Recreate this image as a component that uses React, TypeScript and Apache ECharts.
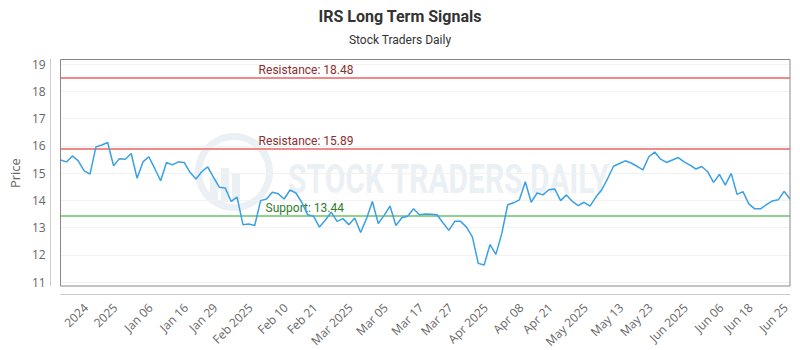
import React, { useEffect, useRef } from "react";
import * as echarts from "echarts";

const prices: number[] = [
  15.48, 15.41, 15.63, 15.45, 15.08, 14.96, 15.96, 16.03, 16.12, 15.27,
  15.53, 15.51, 15.72, 14.81, 15.41, 15.6, 15.17, 14.72, 15.39, 15.3,
  15.41, 15.39, 15.03, 14.78, 15.05, 15.23, 14.84, 14.48, 14.45, 13.96,
  14.12, 13.11, 13.13, 13.08, 13.99, 14.05, 14.3, 14.24, 14.05, 14.38,
  14.27, 13.93, 13.47, 13.42, 13.02, 13.27, 13.57, 13.23, 13.33, 13.11,
  13.35, 12.82, 13.33, 13.96, 13.15, 13.45, 13.79, 13.08, 13.36, 13.42,
  13.69, 13.47, 13.5, 13.49, 13.47, 13.18, 12.9, 13.23, 13.23, 13.02,
  12.66, 11.69, 11.63, 12.38, 12.02, 12.78, 13.84, 13.91, 14.02, 14.68,
  13.93, 14.27, 14.2, 14.39, 14.42, 13.99, 14.2, 13.96, 13.81, 13.93,
  13.79, 14.12, 14.39, 14.8, 15.25, 15.35, 15.45, 15.37, 15.25, 15.12,
  15.6, 15.77, 15.51, 15.39, 15.48, 15.57, 15.41, 15.29, 15.15, 15.24,
  15.05, 14.66, 14.95, 14.56, 14.99, 14.22, 14.32, 13.87, 13.69, 13.69,
  13.84, 13.98, 14.02, 14.33, 14.05,
];

const tickLabels: string[] = [
  "2024", "2025", "Jan 06", "Jan 16", "Jan 29", "Feb 2025", "Feb 10", "Feb 21",
  "Mar 2025", "Mar 05", "Mar 17", "Mar 27", "Apr 2025", "Apr 08", "Apr 21",
  "May 2025", "May 13", "May 23", "Jun 2025", "Jun 06", "Jun 18", "Jun 25",
];

const resistanceLevels: number[] = [18.48, 15.89];
const supportLevels: number[] = [13.44];

const yTicks = { min: 11, max: 19, interval: 1 };

export default function App() {
  const ref = useRef<HTMLDivElement>(null);

  useEffect(() => {
    if (!ref.current) return;
    document.body.style.margin = "0";
    const chart = echarts.init(ref.current, undefined, { renderer: "svg" });

    const n = prices.length;
    const firstTick = 4.7;
    const labelAt = new Map<number, string>();
    tickLabels.forEach((t, j) => {
      const idx = Math.round(firstTick + (j * (n - 1 - firstTick)) / (tickLabels.length - 1));
      labelAt.set(idx, t);
    });
    const categories = prices.map((_, i) => String(i));

    const font = "'Open Sans', sans-serif";
    const wm = "#ebf0f4";

    const lineLabel = (text: string, color: string, padLeft: number) => ({
      show: true,
      formatter: text,
      position: "insideStartTop" as const,
      color,
      fontSize: 12,
      fontFamily: "Roboto, sans-serif",
      distance: 2,
      padding: [0, 0, 0, padLeft],
    });

    const markData: any[] = [
      ...resistanceLevels.map((v) => ({
        yAxis: v,
        lineStyle: { color: "#f08a8a", width: 2, type: "solid" },
        label: lineLabel(`Resistance: ${v.toFixed(2)}`, "#8b2e2e", 196),
      })),
      ...supportLevels.map((v) => ({
        yAxis: v,
        lineStyle: { color: "#90d090", width: 2, type: "solid" },
        label: lineLabel(`Support: ${v.toFixed(2)}`, "#2e7d2e", 203),
      })),
    ];

    chart.setOption({
      animation: false,
      backgroundColor: "#ffffff",
      title: {
        text: "IRS Long Term Signals",
        subtext: "Stock Traders Daily",
        left: "center",
        top: 3,
        itemGap: 10,
        textStyle: { fontFamily: "Roboto, sans-serif", fontWeight: "bold", fontSize: 16, color: "#333333" },
        subtextStyle: { fontFamily: "Roboto, sans-serif", fontSize: 12, color: "#333333" },
      },
      grid: { left: 60, right: 10, top: 64, bottom: 66 },
      graphic: [
        {
          type: "ring",
          shape: { cx: 234, cy: 172, r: 39, r0: 32 },
          style: { fill: wm },
          silent: true,
          z: 0,
        },
        { type: "rect", shape: { x: 210, y: 178, width: 8, height: 24 }, style: { fill: wm }, silent: true, z: 0 },
        { type: "rect", shape: { x: 221, y: 168, width: 8, height: 34 }, style: { fill: wm }, silent: true, z: 0 },
        { type: "rect", shape: { x: 232, y: 174, width: 8, height: 28 }, style: { fill: wm }, silent: true, z: 0 },
        {
          type: "text",
          x: 288,
          y: 179,
          scaleX: 0.75,
          style: {
            text: "STOCK TRADERS DAILY",
            fontSize: 40,
            fontFamily: "Roboto, sans-serif",
            fontWeight: "bold",
            fill: wm,
            verticalAlign: "middle",
          },
          silent: true,
          z: 0,
        },
        {
          type: "rect",
          shape: { x: 60.5, y: 59.5, width: 729.5, height: 226.5 },
          style: { fill: "none", stroke: "#888888", lineWidth: 1 },
          silent: true,
          z: 10,
        },
        {
          type: "line",
          shape: { x1: 50.5, y1: 59, x2: 50.5, y2: 286 },
          style: { stroke: "#cccccc", lineWidth: 1 },
          silent: true,
        },
      ],
      xAxis: {
        type: "category",
        data: categories,
        boundaryGap: false,
        offset: 12,
        axisLine: { show: true, lineStyle: { color: "#cccccc" } },
        axisTick: { show: false },
        splitLine: { show: false },
        axisLabel: {
          interval: (index: number) => labelAt.has(index),
          formatter: (_v: string, index: number) => labelAt.get(index) ?? "",
          rotate: 45,
          margin: 7,
          padding: [0, 6, 0, 0],
          fontSize: 12,
          fontFamily: font,
          color: "#666666",
        },
      },
      yAxis: {
        type: "value",
        min: yTicks.min,
        max: yTicks.max,
        interval: yTicks.interval,
        name: "Price",
        nameLocation: "middle",
        nameGap: 36,
        nameTextStyle: { fontSize: 13, fontFamily: font, color: "#666666" },
        axisLine: { show: false },
        axisTick: { show: false },
        splitLine: { show: true, lineStyle: { color: "#f2f2f2" } },
        axisLabel: { margin: 15, fontSize: 12, fontFamily: font, color: "#666666" },
      },
      series: [
        {
          type: "line",
          data: prices,
          showSymbol: false,
          smooth: false,
          lineStyle: { color: "#3aa0e6", width: 1.5 },
          itemStyle: { color: "#3aa0e6" },
          z: 5,
          markLine: {
            silent: true,
            symbol: ["none", "none"],
            animation: false,
            data: markData,
          },
        },
      ],
    });

    return () => chart.dispose();
  }, []);

  return <div ref={ref} style={{ width: 800, height: 350 }} />;
}
